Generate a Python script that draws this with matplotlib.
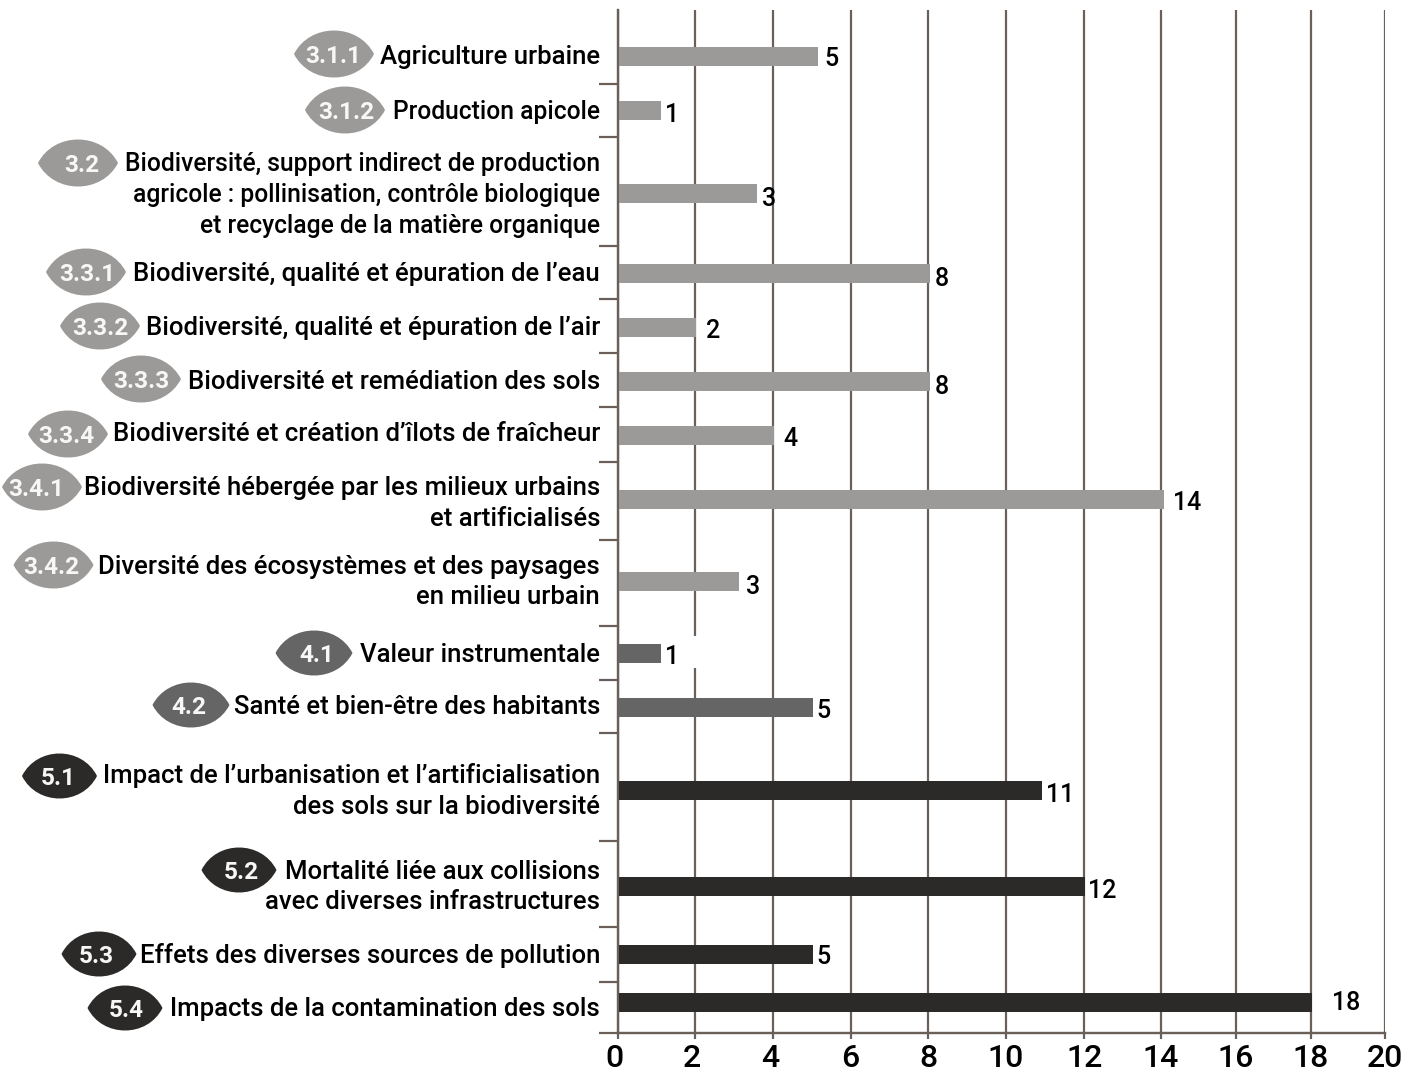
import numpy as np
import matplotlib
matplotlib.use('Agg')
import matplotlib.pyplot as plt
from matplotlib.path import Path
from matplotlib.patches import PathPatch, Rectangle
from matplotlib.ticker import FixedLocator, FixedFormatter, NullLocator
from matplotlib.transforms import ScaledTranslation

# ---------- data ----------
codes = ['3.1.1', '3.1.2', '3.2', '3.3.1', '3.3.2', '3.3.3', '3.3.4', '3.4.1', '3.4.2',
         '4.1', '4.2', '5.1', '5.2', '5.3', '5.4']
labels = [
    ['Agriculture urbaine'],
    ['Production apicole'],
    ['Biodiversité, support indirect de production',
     'agricole : pollinisation, contrôle biologique',
     'et recyclage de la matière organique'],
    ['Biodiversité, qualité et épuration de l’eau'],
    ['Biodiversité, qualité et épuration de l’air'],
    ['Biodiversité et remédiation des sols'],
    ['Biodiversité et création d’îlots de fraîcheur'],
    ['Biodiversité hébergée par les milieux urbains', 'et artificialisés'],
    ['Diversité des écosystèmes et des paysages', 'en milieu urbain'],
    ['Valeur instrumentale'],
    ['Santé et bien-être des habitants'],
    ['Impact de l’urbanisation et l’artificialisation', 'des sols sur la biodiversité'],
    ['Mortalité liée aux collisions', 'avec diverses infrastructures'],
    ['Effets des diverses sources de pollution'],
    ['Impacts de la contamination des sols'],
]
values = [5, 1, 3, 8, 2, 8, 4, 14, 3, 1, 5, 11, 12, 5, 18]
bar_lengths = [5.13, 1.09, 3.56, 8.02, 2.0, 8.02, 4.0, 14.05, 3.1, 1.09, 5.0, 10.9, 12.0, 5.0, 18.0]
x_ticks = [0, 2, 4, 6, 8, 10, 12, 14, 16, 18, 20]

GREY, MID, DARK = '#9b9a99', '#656565', '#2b2a29'
colors = [GREY] * 9 + [MID] * 2 + [DARK] * 4

# ---------- layout (pixels of the 1410x1071 canvas) ----------
W, H = 1410, 1071
x_px = [618, 695, 773, 851, 928, 1006, 1084, 1161, 1236, 1311, 1385]
top, bottom = 10, 1033
bar_y = [56, 110, 193.5, 273.5, 327, 381, 435, 499, 581, 653, 707, 790, 886, 954, 1002]
bounds = [84, 137, 246, 299, 353, 407, 462, 540, 626, 680, 733, 841, 927, 982, 1033]
label_y = [[54.5], [109.5], [161.5, 192.5, 223.5], [271.5], [325.5], [379.5], [431.5], [485.5, 516.5],
           [564.5, 594.5], [652.5], [704.5], [773.5, 804.5], [869.5, 899.5], [953.5], [1006.5]]
label_size = [25.7, 24.6, 24.6, 25.7, 25.7, 25.7, 25.7, 25.7, 25.7, 25.7, 25.7, 25.7, 25.7, 25.7, 25.7]
badge_x = [334, 345, 78, 86, 100, 141, 68, 42, 53.5, 314, 191, 59.5, 239, 99, 125]
badge_y = [54, 110, 163, 272, 326, 379, 434, 487, 565, 653, 705, 776, 870, 954, 1008]
badge_w = [80] * 9 + [77] * 2 + [75] * 4
badge_h = [47] * 9 + [45] * 2 + [45] * 4
code_x = [333, 346.5, 82, 87.5, 100, 141, 66, 36, 51, 317, 189, 58, 241, 96.5, 126]
value_xy = [(831, 56), (672, 113), (769, 196), (942, 277), (713, 328), (942, 385), (790, 436),
            (1187, 501), (753, 584), (672, 654), (824, 708), (1060, 792), (1102, 888),
            (824, 954), (1346, 1000)]
tick_shift = [-4, -3, -3, -1, 0, 0, 1, 0, 0, 0, 0]

plt.rcParams['font.family'] = ['Roboto', 'DejaVu Sans']
px = 72 / 100  # points per pixel at dpi 100
LINE = '#6b5f5a'

fig = plt.figure(figsize=(W / 100, H / 100), dpi=100, facecolor='white')
ax = fig.add_axes([x_px[0] / W, 1 - bottom / H, (x_px[-1] - x_px[0]) / W, (bottom - top) / H])

ax.set_xscale('function', functions=(lambda v: np.interp(v, x_ticks, x_px),
                                     lambda p: np.interp(p, x_px, x_ticks)))
ax.set_xlim(0, 20)
ax.set_ylim(bottom, top)
ax.set_axisbelow(True)

ax.barh(bar_y, bar_lengths, height=19, color=colors, left=0.03, zorder=3)

ax.xaxis.set_major_locator(FixedLocator(x_ticks))
ax.xaxis.set_minor_locator(NullLocator())
ax.xaxis.set_major_formatter(FixedFormatter([str(t) for t in x_ticks]))
ax.grid(axis='x', color=LINE, lw=2.2 * px, zorder=1)
ax.set_yticks(bounds)
ax.set_yticklabels([])
ax.tick_params(axis='y', length=19 * px, width=2.2 * px, color=LINE)
ax.tick_params(axis='x', length=6 * px, width=2.2 * px, color=LINE, pad=3.5,
               labelsize=32 * px, labelcolor='black')
for s in ['top', 'right']:
    ax.spines[s].set_visible(False)
for s in ['left', 'bottom']:
    ax.spines[s].set_color(LINE)
    ax.spines[s].set_linewidth(2.4 * px)
for lab, dx in zip(ax.get_xticklabels(), tick_shift):
    lab.set_fontweight('medium')
    lab.set_transform(lab.get_transform() + ScaledTranslation(dx * px / 72, 0, fig.dpi_scale_trans))

# overlay in pixel coordinates for labels and badges
ov = fig.add_axes([0, 0, 1, 1], facecolor='none')
ov.set_xlim(0, W)
ov.set_ylim(H, 0)
ov.axis('off')

# white gap behind the value label of "Valeur instrumentale"
ov.add_patch(Rectangle((690, 636), 10, 32, fc='white', ec='none'))


def eye(cx, cy, w, h):
    a, b = w / 2, h / 2
    k = 0.6
    t = b * 4 / 3
    verts = [(cx - a, cy), (cx - a * k, cy - t), (cx + a * k, cy - t), (cx + a, cy),
             (cx + a * k, cy + t), (cx - a * k, cy + t), (cx - a, cy), (cx - a, cy)]
    kinds = [Path.MOVETO, Path.CURVE4, Path.CURVE4, Path.CURVE4, Path.CURVE4, Path.CURVE4, Path.CURVE4, Path.CLOSEPOLY]
    return Path(verts, kinds)


for i, code in enumerate(codes):
    for line, y in zip(labels[i], label_y[i]):
        ov.text(600, y, line, ha='right', va='center_baseline', fontsize=label_size[i] * px,
                fontweight='medium', color='black')
    ov.add_patch(PathPatch(eye(badge_x[i], badge_y[i], badge_w[i], badge_h[i]), fc=colors[i], ec='none'))
    ov.text(code_x[i], badge_y[i], code, ha='center', va='center_baseline', fontsize=24.4 * px,
            fontweight='bold', color='#f7f7f7')

for v, (x, y) in zip(values, value_xy):
    ov.text(x, y, str(v), ha='center', va='center_baseline', fontsize=25 * px,
            fontweight='medium', color='black')

fig.savefig('out.png', dpi=100, facecolor='white')
